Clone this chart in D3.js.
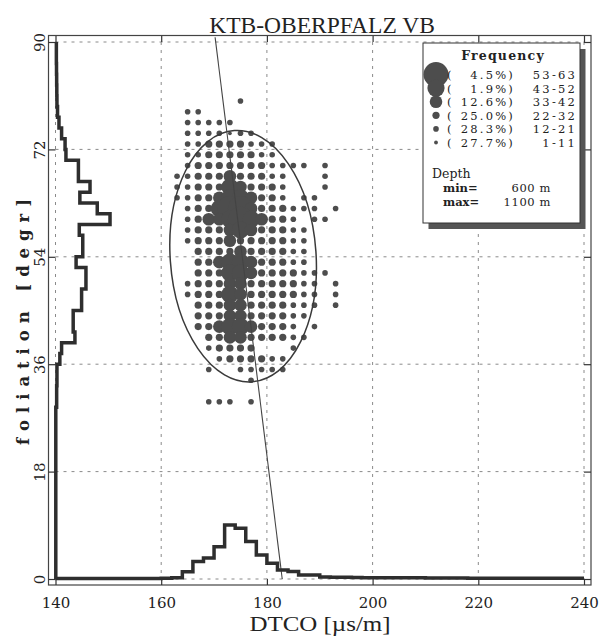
<!DOCTYPE html>
<html>
<head>
<meta charset="utf-8">
<script src="https://cdn.jsdelivr.net/npm/d3@7"></script>
<style>
  body { margin: 0; background: #fff; }
  svg { display: block; }
</style>
</head>
<body>
<div id="chart"></div>
<script>
// axis ticks
const xTicks = [140, 160, 180, 200, 220, 240];
const yTicks = [0, 18, 36, 54, 72, 90];

// bottom histogram: DTCO, 2 us/m bins starting at 140 (percent)
const dtcoHist = [0.2, 0.2, 0.2, 0.2, 0.2, 0.2, 0.2, 0.2, 0.2, 0.2,
                  0.3, 0.4, 2.5, 6.0, 7.2, 11.1, 18.6, 17.5, 12.9, 8.3,
                  5.4, 3.1, 2.6, 1.4, 1.4, 0.7, 0.6, 0.6, 0.5, 0.4,
                  0.4, 0.4, 0.4, 0.4, 0.4, 0.35, 0.35, 0.35, 0.35, 0.3,
                  0.3, 0.3, 0.3, 0.3, 0.3, 0.3, 0.3, 0.3, 0.3, 0.3];

// left histogram: foliation, 1.8 degr bins starting at 0 (percent)
const folHist = [0.1, 0.1, 0.1, 0.1, 0.1, 0.1, 0.1, 0.1, 0.1, 0.1,
                 0.1, 0.1, 0.1, 0.1, 0.1, 0.1, 0.4, 0.4, 0.5, 0.5,
                 1.5, 2.1, 6.7, 6.1, 6.1, 9.0, 9.0, 10.5, 10.5, 7.1,
                 9.4, 9.4, 8.2, 18.8, 14.4, 8.4, 11.9, 7.9, 7.9, 3.6,
                 3.3, 2.1, 1.2, 0.7, 0.5, 0.45, 0.4, 0.35, 0.3, 0.3];

// scatter cells: frequency class (0 = empty, 1..6 as in legend)
const cellX = [163, 165, 167, 169, 171, 173, 175, 177, 179, 181, 183, 185, 187, 189, 191, 193];
const cellY = [80.1, 78.3, 76.5, 74.7, 72.9, 71.1, 69.3, 67.5, 65.7, 63.9, 62.1, 60.3, 58.5, 56.7,
               54.9, 53.1, 51.3, 49.5, 47.7, 45.9, 44.1, 42.3, 40.5, 38.7, 36.9, 35.1, 33.3, 29.7];
const cellClass = [
  [0,0,0,0,0,0,2,0,0,0,0,0,0,0,0,0],
  [0,2,2,0,0,0,0,0,0,0,0,0,0,0,0,0],
  [0,2,2,2,2,2,0,0,0,0,0,0,0,0,0,0],
  [0,2,2,2,2,1,2,2,0,0,0,0,0,0,0,0],
  [0,2,2,3,3,3,3,2,2,2,0,0,0,0,0,0],
  [0,2,2,3,3,3,3,3,2,2,0,0,0,0,0,0],
  [0,2,3,3,3,3,3,3,3,2,2,2,2,0,2,0],
  [2,2,3,3,3,4,3,3,3,2,2,0,0,0,2,0],
  [2,2,3,3,3,5,4,3,3,3,2,0,0,0,2,0],
  [2,2,3,3,4,5,5,4,3,3,2,0,2,2,0,0],
  [0,2,3,3,5,6,6,4,3,3,3,2,2,2,0,2],
  [0,2,3,4,4,5,6,5,4,3,3,2,0,2,2,0],
  [0,2,3,3,3,4,5,4,3,3,3,2,2,0,0,0],
  [0,2,3,3,3,4,3,3,3,3,3,2,2,0,0,0],
  [0,0,3,3,3,3,4,3,3,3,3,2,2,0,0,0],
  [0,0,3,3,4,5,5,4,3,3,3,2,2,0,0,0],
  [0,0,3,3,3,5,5,4,3,3,3,3,2,2,2,0],
  [0,2,3,3,3,4,4,3,3,3,3,3,2,2,0,2],
  [0,2,3,3,3,5,4,3,3,3,3,3,2,2,0,2],
  [0,0,3,3,3,4,4,3,3,3,3,2,2,2,0,2],
  [0,0,3,3,3,4,4,3,3,3,3,2,2,0,0,0],
  [0,0,3,3,4,5,5,4,3,3,3,2,0,2,0,0],
  [0,0,0,3,3,4,4,3,3,3,3,2,2,0,0,0],
  [0,0,0,2,3,3,3,3,0,0,0,2,0,0,0,0],
  [0,0,0,0,2,3,3,3,3,2,2,0,0,0,0,0],
  [0,0,0,2,0,0,2,2,2,2,2,0,0,0,0,0],
  [0,0,0,0,0,0,0,2,0,0,0,0,0,0,0,0],
  [0,0,0,2,2,2,0,2,0,0,0,0,0,0,0,0]
];

// ellipse (data units) and trend line
const ellCenter = [175.5, 54.1];
const ellRadii = [13.8, 21.1];
const ellTilt = -4;
const trendX = [170.2, 182.9];
const trendY = [90.8, 0];

// legend
const legendClass = [6, 5, 4, 3, 2, 1];
const legendPct = ["4.5%)", "1.9%)", "12.6%)", "25.0%)", "28.3%)", "27.7%)"];
const legendRange = ["53-63", "43-52", "33-42", "22-32", "12-21", "1-11"];
const depthMin = "600 m", depthMax = "1100 m";

const W = 600, H = 636;
const ink = "#2e2e2e", dotCol = "#4d4d4d";
const serif = "'DejaVu Serif', serif";
const times = "'Liberation Serif', 'Times New Roman', serif";

const svg = d3.select("#chart").append("svg")
    .attr("width", W).attr("height", H);

const x = d3.scaleLinear().domain([140, 240]).range([55.5, 584]);
const y = d3.scaleLinear().domain([0, 90]).range([579, 42]);
const h = d3.scaleLinear().domain([0, 20]).range([0, 58]);
const r = d3.scaleOrdinal().domain([1, 2, 3, 4, 5, 6]).range([1.9, 2.8, 3.6, 6.3, 8.6, 12.5]);

// grid
const grid = svg.append("g").attr("stroke", "#8a8a8a").attr("stroke-width", 1)
    .attr("stroke-dasharray", "3,5");
grid.selectAll(".gx").data(xTicks).join("line")
    .attr("x1", d => x(d)).attr("x2", d => x(d))
    .attr("y1", y(90)).attr("y2", y(0));
grid.selectAll(".gy").data(yTicks).join("line")
    .attr("y1", d => y(d)).attr("y2", d => y(d))
    .attr("x1", x(140)).attr("x2", x(240));

// frame
svg.append("rect")
    .attr("x", 48.5).attr("y", 35.5).attr("width", 542.5).attr("height", 549.5)
    .attr("fill", "none").attr("stroke", "#444").attr("stroke-width", 1.2);

// axes (ticks go outward to the frame)
function clean(g) {
  g.select(".domain").remove();
  g.selectAll(".tick line").attr("stroke", "#333").attr("stroke-width", 1.2);
}
svg.append("g").attr("transform", `translate(0,${y(0)})`)
    .call(d3.axisBottom(x).tickValues(xTicks).tickSize(6).tickFormat(d3.format("d")))
    .call(clean)
    .call(g => g.selectAll("text").attr("y", 29).attr("dy", null)
        .attr("font-family", serif).attr("font-size", 15).attr("fill", "#222"));
svg.append("g").attr("transform", `translate(0,${y(90)})`)
    .call(d3.axisTop(x).tickValues(xTicks).tickSize(6).tickFormat(""))
    .call(clean);
svg.append("g").attr("transform", `translate(${x(140)},0)`)
    .call(d3.axisLeft(y).tickValues(yTicks).tickSize(7).tickFormat(d3.format("d")))
    .call(clean)
    .call(g => g.selectAll("text").attr("transform", "rotate(-90)")
        .attr("x", 0).attr("y", -10.5).attr("dy", null).attr("text-anchor", "middle")
        .attr("font-family", serif).attr("font-size", 15).attr("fill", "#222"));
svg.append("g").attr("transform", `translate(${x(240)},0)`)
    .call(d3.axisRight(y).tickValues(yTicks).tickSize(7).tickFormat(""))
    .call(clean);

// scatter cells
const cells = [];
cellClass.forEach((row, i) => row.forEach((c, j) => {
  if (c > 0) cells.push({ x: cellX[j], y: cellY[i], c: c });
}));
svg.append("g").selectAll("circle").data(cells).join("circle")
    .attr("cx", d => x(d.x)).attr("cy", d => y(d.y)).attr("r", d => r(d.c))
    .attr("fill", dotCol);

// ellipse
svg.append("ellipse")
    .attr("cx", x(ellCenter[0])).attr("cy", y(ellCenter[1]))
    .attr("rx", x(ellCenter[0] + ellRadii[0]) - x(ellCenter[0]))
    .attr("ry", y(ellCenter[1] - ellRadii[1]) - y(ellCenter[1]))
    .attr("transform", `rotate(${ellTilt},${x(ellCenter[0])},${y(ellCenter[1])})`)
    .attr("fill", "none").attr("stroke", "#3a3a3a").attr("stroke-width", 1.5);

// trend line
svg.append("line")
    .attr("x1", x(trendX[0])).attr("y1", y(trendY[0]))
    .attr("x2", x(trendX[1])).attr("y2", y(trendY[1]))
    .attr("stroke", "#444").attr("stroke-width", 1.1);

// bottom histogram
const bPts = dtcoHist.map((v, i) => [140 + 2 * i, v]);
bPts.push([240, dtcoHist[dtcoHist.length - 1]]);
svg.append("path")
    .attr("d", d3.line().x(d => x(d[0])).y(d => y(0) - h(d[1])).curve(d3.curveStepAfter)(bPts))
    .attr("fill", "none").attr("stroke", ink).attr("stroke-width", 3.5);

// left histogram
const lPts = folHist.map((v, i) => [1.8 * i, v]);
lPts.push([90, folHist[folHist.length - 1]]);
svg.append("path")
    .attr("d", d3.line().x(d => x(140) + h(d[1])).y(d => y(d[0])).curve(d3.curveStepBefore)(lPts))
    .attr("fill", "none").attr("stroke", ink).attr("stroke-width", 3.5);

// titles
svg.append("text").attr("x", 322).attr("y", 32.5).attr("text-anchor", "middle")
    .attr("font-family", times).attr("font-size", 23.5).attr("fill", "#222")
    .text("KTB-OBERPFALZ VB");
svg.append("text").attr("x", 320).attr("y", 631).attr("text-anchor", "middle")
    .attr("font-family", times).attr("font-size", 21.5).attr("fill", "#222")
    .attr("textLength", 141).attr("lengthAdjust", "spacingAndGlyphs")
    .text("DTCO [\u00b5s/m]");
svg.append("text").attr("transform", "translate(29,322) rotate(-90)")
    .attr("text-anchor", "middle").attr("font-family", serif).attr("font-weight", "bold")
    .attr("font-size", 16.5).attr("fill", "#222")
    .attr("textLength", 246).attr("lengthAdjust", "spacing")
    .text("foliation  [degr]");

// legend
const lg = svg.append("g");
lg.append("rect").attr("x", 428.5).attr("y", 49).attr("width", 157).attr("height", 180)
    .attr("fill", "#555");
lg.append("rect").attr("x", 423).attr("y", 43).attr("width", 157).attr("height", 180)
    .attr("fill", "#fff").attr("stroke", "#333").attr("stroke-width", 1);
lg.append("text").attr("x", 503).attr("y", 59.5).attr("text-anchor", "middle")
    .attr("font-family", serif).attr("font-weight", "bold").attr("font-size", 12.5)
    .attr("letter-spacing", 1.2).attr("fill", "#222").text("Frequency");

const rowBase = i => 79 + 13.6 * i;
const rows = lg.selectAll(".row").data(legendClass).join("g");
rows.append("circle").attr("cx", 436).attr("cy", (d, i) => rowBase(i) - 4.5)
    .attr("r", d => r(d)).attr("fill", dotCol);
rows.append("text").attr("x", 447).attr("y", (d, i) => rowBase(i))
    .attr("font-family", serif).attr("font-size", 11.5).attr("fill", "#222").text("(");
rows.append("text").attr("x", 515).attr("y", (d, i) => rowBase(i))
    .attr("text-anchor", "end").attr("letter-spacing", 2.2)
    .attr("font-family", serif).attr("font-size", 11.5).attr("fill", "#222")
    .text((d, i) => legendPct[i]);
rows.append("text").attr("x", 577).attr("y", (d, i) => rowBase(i))
    .attr("text-anchor", "end").attr("letter-spacing", 2.2)
    .attr("font-family", serif).attr("font-size", 11.5).attr("fill", "#222")
    .text((d, i) => legendRange[i]);

lg.append("text").attr("x", 432).attr("y", 177.5)
    .attr("font-family", serif).attr("font-size", 12.5).attr("fill", "#222").text("Depth");
lg.append("text").attr("x", 443).attr("y", 192.3)
    .attr("font-family", serif).attr("font-weight", "bold").attr("font-size", 11.5)
    .attr("fill", "#222").text("min=");
lg.append("text").attr("x", 443).attr("y", 206)
    .attr("font-family", serif).attr("font-weight", "bold").attr("font-size", 11.5)
    .attr("fill", "#222").text("max=");
lg.append("text").attr("x", 551).attr("y", 192.3).attr("text-anchor", "end")
    .attr("font-family", serif).attr("font-size", 11.5).attr("letter-spacing", 0.6)
    .attr("fill", "#222").text(depthMin);
lg.append("text").attr("x", 551).attr("y", 206).attr("text-anchor", "end")
    .attr("font-family", serif).attr("font-size", 11.5).attr("letter-spacing", 0.6)
    .attr("fill", "#222").text(depthMax);
</script>
</body>
</html>
